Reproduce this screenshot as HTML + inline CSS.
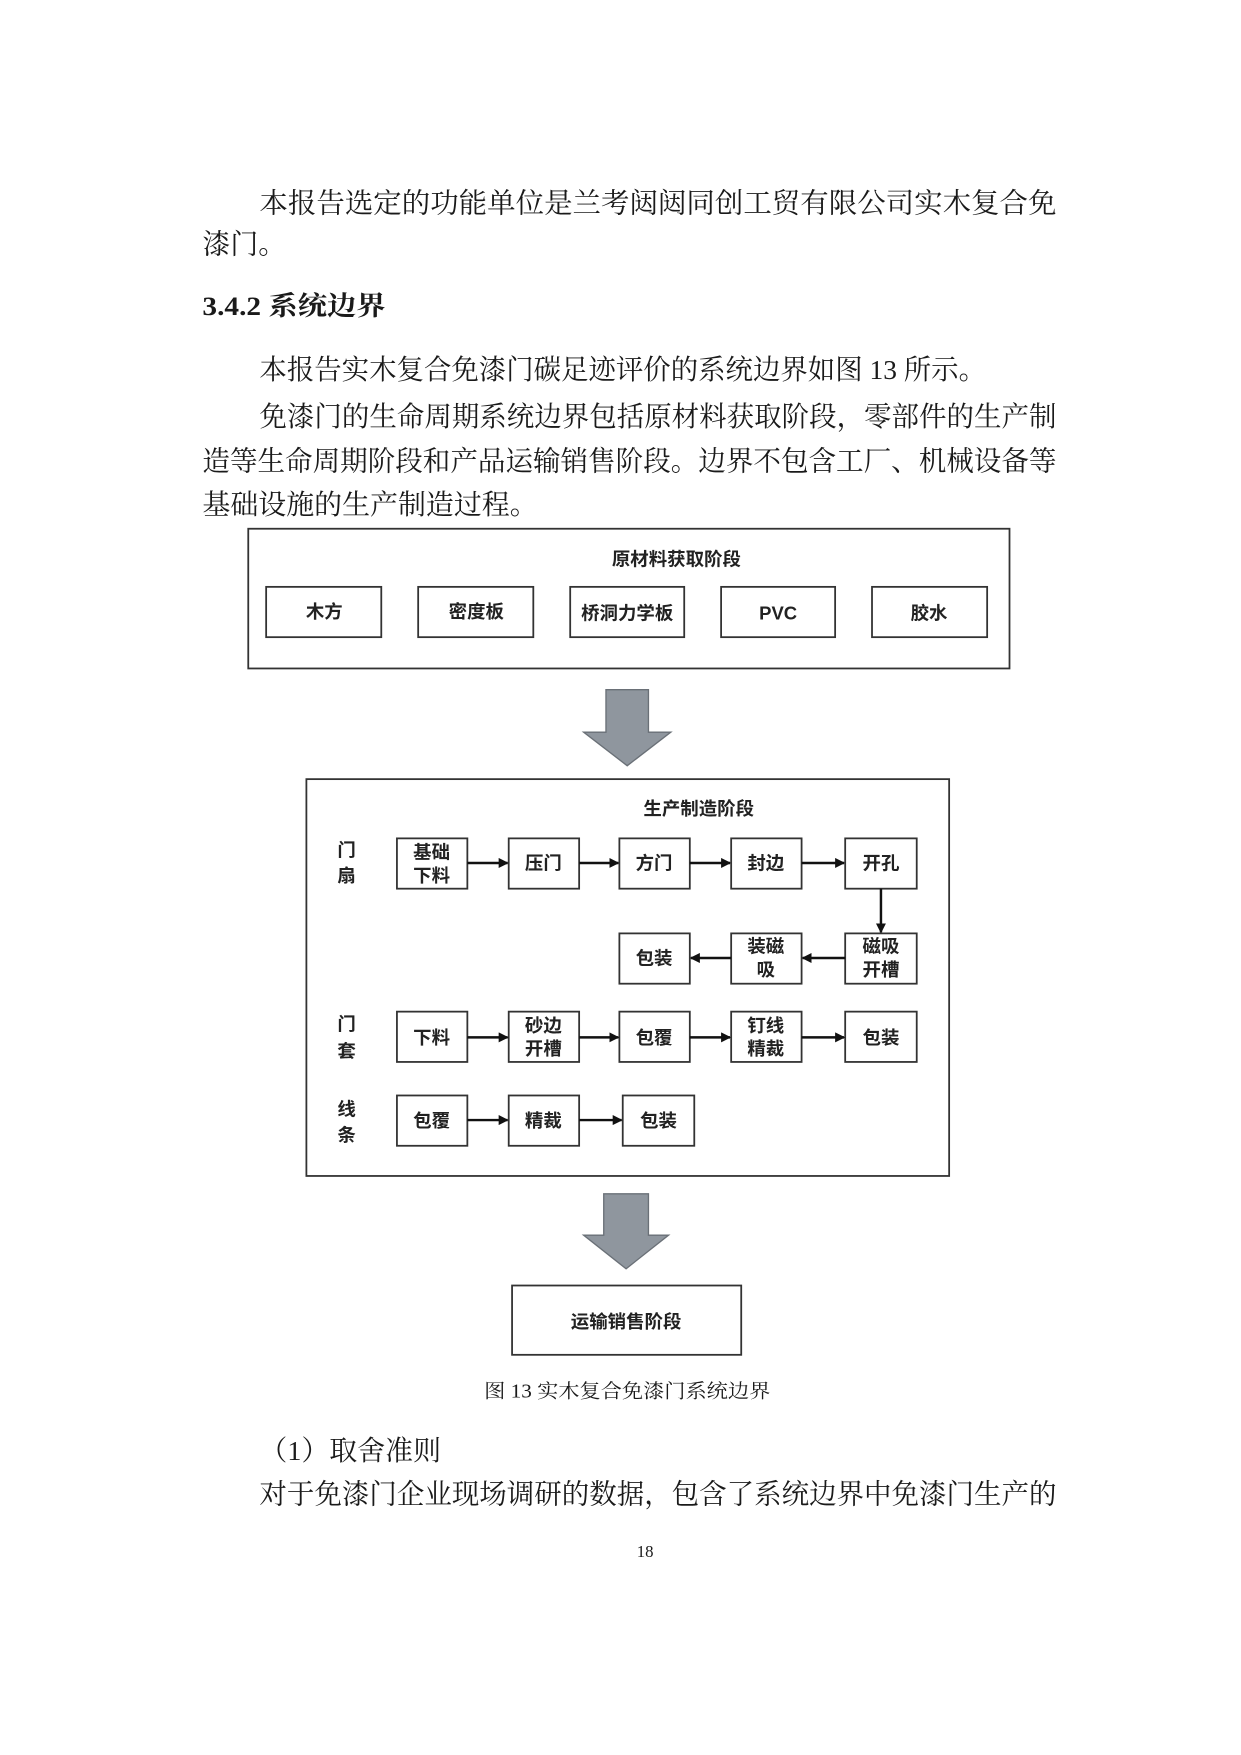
<!DOCTYPE html>
<html><head><meta charset="utf-8"><style>
html,body{margin:0;padding:0;background:#fff;}
svg{display:block;}
text{font-family:"Liberation Serif","Noto Serif CJK SC","Noto Sans CJK SC",serif;fill:#1a1a1a;}
.d{font-family:"Liberation Sans","Noto Sans CJK SC",sans-serif;font-size:16.5px;font-weight:bold;fill:#222;}
</style></head><body>
<svg width="1241" height="1755" viewBox="0 0 1110 1570" xmlns="http://www.w3.org/2000/svg">
<defs><marker id="a" markerWidth="9" markerHeight="9" refX="8" refY="4.5" orient="auto" markerUnits="userSpaceOnUse"><path d="M0,0 L9,4.5 L0,9 z" fill="#111"/></marker></defs>
<g font-size="25">
<text x="232" y="190" textLength="713" lengthAdjust="spacingAndGlyphs">本报告选定的功能单位是兰考闼闼同创工贸有限公司实木复合免</text>
<text x="181" y="227">漆门。</text>
<text x="181" y="282" font-weight="bold" font-size="24" textLength="164" lengthAdjust="spacingAndGlyphs">3.4.2  系统边界</text>
<text x="232" y="339" textLength="650" lengthAdjust="spacingAndGlyphs">本报告实木复合免漆门碳足迹评价的系统边界如图 13 所示。</text>
<text x="232" y="381" textLength="713" lengthAdjust="spacingAndGlyphs">免漆门的生命周期系统边界包括原材料获取阶段，零部件的生产制</text>
<text x="181" y="421" textLength="764" lengthAdjust="spacingAndGlyphs">造等生命周期阶段和产品运输销售阶段。边界不包含工厂、机械设备等</text>
<text x="181" y="460">基础设施的生产制造过程。</text>
<text x="232" y="1306">（1）取舍准则</text>
<text x="232" y="1345" textLength="713" lengthAdjust="spacingAndGlyphs">对于免漆门企业现场调研的数据，包含了系统边界中免漆门生产的</text>
</g>
<text x="577" y="1393" font-size="15" text-anchor="middle">18</text>
<text x="433" y="1250" font-size="17.5" textLength="256" lengthAdjust="spacingAndGlyphs">图 13  实木复合免漆门系统边界</text>
<g fill="none" stroke="#333" stroke-width="1.6">
<rect x="222" y="473" width="681" height="125"/>
<rect x="238" y="525" width="103" height="45"/><rect x="374" y="525" width="103" height="45"/><rect x="510" y="525" width="102" height="45"/><rect x="645" y="525" width="102" height="45"/><rect x="780" y="525" width="103" height="45"/>
<rect x="274" y="697" width="575" height="355"/>
<rect x="355" y="750" width="63" height="45"/><rect x="455" y="750" width="63" height="45"/><rect x="554" y="750" width="63" height="45"/><rect x="654" y="750" width="63" height="45"/><rect x="756" y="750" width="64" height="45"/>
<rect x="554" y="835" width="63" height="45"/><rect x="654" y="835" width="63" height="45"/><rect x="756" y="835" width="64" height="45"/>
<rect x="355" y="905" width="63" height="45"/><rect x="455" y="905" width="63" height="45"/><rect x="554" y="905" width="63" height="45"/><rect x="654" y="905" width="63" height="45"/><rect x="756" y="905" width="64" height="45"/>
<rect x="355" y="980" width="63" height="45"/><rect x="455" y="980" width="63" height="45"/><rect x="557" y="980" width="64" height="45"/>
<rect x="458" y="1150" width="205" height="62"/>
</g>
<g stroke="#111" stroke-width="2.2" marker-end="url(#a)">
<line x1="418" y1="772" x2="454" y2="772"/><line x1="518" y1="772" x2="553" y2="772"/><line x1="617" y1="772" x2="653" y2="772"/><line x1="717" y1="772" x2="755" y2="772"/>
<line x1="788" y1="795" x2="788" y2="834"/>
<line x1="756" y1="857" x2="718" y2="857"/><line x1="654" y1="857" x2="618" y2="857"/>
<line x1="418" y1="928" x2="454" y2="928"/><line x1="518" y1="928" x2="553" y2="928"/><line x1="617" y1="928" x2="653" y2="928"/><line x1="717" y1="928" x2="755" y2="928"/>
<line x1="418" y1="1002" x2="454" y2="1002"/><line x1="518" y1="1002" x2="556" y2="1002"/>
</g>
<path d="M542,617 H580 V655 H600 L561,685 L522,655 H542 Z" fill="#8f969e" stroke="#6a7077" stroke-width="1.2"/>
<path d="M540,1068 H580 V1105 H598 L560,1135 L522,1105 H540 Z" fill="#8f969e" stroke="#6a7077" stroke-width="1.2"/>
<g text-anchor="middle">
<text class="d" x="605" y="506">原材料获取阶段</text>
<text class="d" x="290" y="553">木方</text><text class="d" x="426" y="553">密度板</text><text class="d" x="561" y="554">桥洞力学板</text><text class="d" x="696" y="554">PVC</text><text class="d" x="831" y="554">胶水</text>
<text class="d" x="625" y="729">生产制造阶段</text>
<text class="d" x="386" y="768">基础</text><text class="d" x="386" y="789">下料</text>
<text class="d" x="486" y="778">压门</text><text class="d" x="585" y="778">方门</text><text class="d" x="685" y="778">封边</text><text class="d" x="788" y="778">开孔</text>
<text class="d" x="585" y="863">包装</text><text class="d" x="685" y="852">装磁</text><text class="d" x="685" y="873">吸</text><text class="d" x="788" y="852">磁吸</text><text class="d" x="788" y="873">开槽</text>
<text class="d" x="386" y="934">下料</text><text class="d" x="486" y="923">砂边</text><text class="d" x="486" y="944">开槽</text><text class="d" x="585" y="934">包覆</text><text class="d" x="685" y="923">钉线</text><text class="d" x="685" y="944">精裁</text><text class="d" x="788" y="934">包装</text>
<text class="d" x="386" y="1008">包覆</text><text class="d" x="486" y="1008">精裁</text><text class="d" x="589" y="1008">包装</text>
<text class="d" x="310" y="766">门</text><text class="d" x="310" y="789">扇</text>
<text class="d" x="310" y="922">门</text><text class="d" x="310" y="946">套</text>
<text class="d" x="310" y="998">线</text><text class="d" x="310" y="1021">条</text>
<text class="d" x="560" y="1188">运输销售阶段</text>
</g>
</svg>
</body></html>
